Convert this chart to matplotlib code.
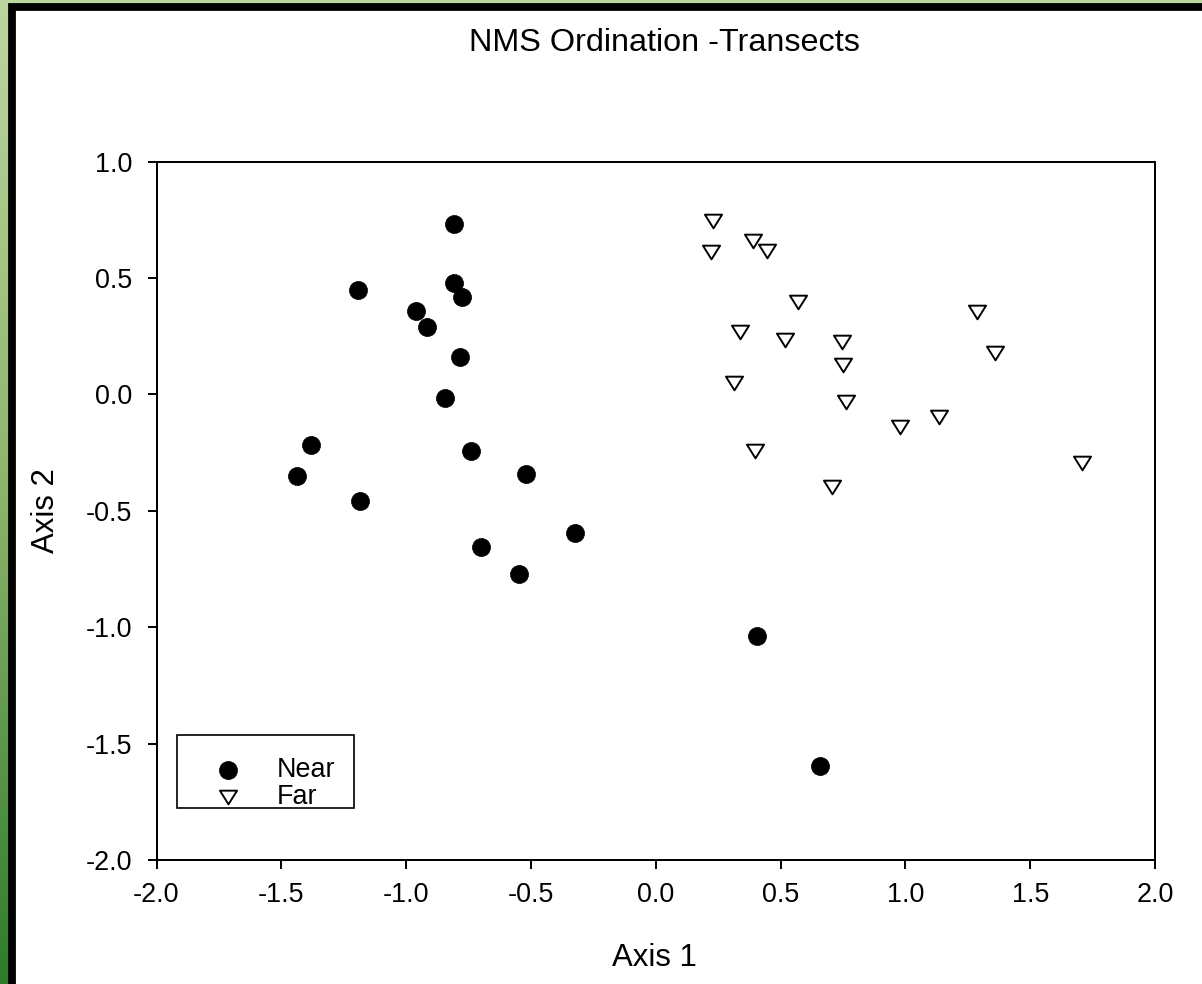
import numpy as np
import matplotlib
matplotlib.use("Agg")
import matplotlib.pyplot as plt
from matplotlib.colors import LinearSegmentedColormap
from matplotlib.patches import Rectangle
from matplotlib.path import Path

plt.rcParams['font.family'] = ['Liberation Sans', 'DejaVu Sans']

# NMS scores, axis 1 / axis 2
near_x = [-0.808, -1.191, -0.808, -0.777, -0.960, -0.915, -0.784, -0.843, -1.380,
          -1.436, -1.186, -0.740, -0.518, -0.323, -0.699, -0.549, 0.407, 0.658]
near_y = [0.731, 0.447, 0.479, 0.417, 0.357, 0.288, 0.162, -0.014, -0.219,
          -0.349, -0.459, -0.244, -0.343, -0.597, -0.654, -0.771, -1.039, -1.598]

far_x = [0.231, 0.223, 0.389, 0.447, 0.569, 0.339, 0.518, 0.745, 0.749,
         0.313, 0.761, 0.980, 1.134, 1.287, 1.361, 0.398, 0.705, 1.709]
far_y = [0.743, 0.612, 0.657, 0.614, 0.398, 0.267, 0.234, 0.225, 0.127,
         0.048, -0.031, -0.141, -0.098, 0.354, 0.177, -0.244, -0.399, -0.295]

ticks = [-2.0, -1.5, -1.0, -0.5, 0.0, 0.5, 1.0, 1.5, 2.0]
y_ticks = [-2.0, -1.5, -1.0, -0.5, 0.0, 0.5, 1.0]

W, H = 1202, 984
fig = plt.figure(figsize=(W / 100, H / 100), dpi=100)

# slide background: green gradient with a black-edged white panel
bg = fig.add_axes([0, 0, 1, 1])
bg.set_xlim(0, W)
bg.set_ylim(H, 0)
bg.axis("off")
green = LinearSegmentedColormap.from_list(
    "slide", [(0.0, "#bdd6a0"), (0.5, "#8db46b"), (1.0, "#2e7b2c")])
grad = np.linspace(0, 1, 256).reshape(-1, 1)
bg.imshow(grad, cmap=green, extent=[0, W, H, 0], aspect="auto", zorder=0)
bg.add_patch(Rectangle((11.5, 6.5), 1400, 1200, facecolor="white",
                       edgecolor="black", linewidth=5.6, zorder=1))

fig.text(664 / W, 1 - 43 / H, "NMS Ordination -Transects", fontsize=23.3,
         ha="center", va="center")

ax = fig.add_axes([156.5 / W, (H - 860) / H, 998.5 / W, 698.5 / H])
ax.set_facecolor("none")

# flattened down-pointing triangle, closed so the outline joins
tri = Path([(-1, 0.8), (1, 0.8), (0, -0.8), (-1, 0.8)], closed=True)

ax.plot(near_x, near_y, linestyle="none", marker="o", ms=13, mfc="black",
        mec="black", mew=0.5, clip_on=False)
ax.plot(far_x, far_y, linestyle="none", marker=tri, ms=12.3, mfc="white",
        mec="black", mew=1.4, clip_on=False)

ax.set_xlim(-2, 2)
ax.set_ylim(-2, 1)
ax.set_xticks(ticks)
ax.set_yticks(y_ticks)
ax.set_xticklabels([f"{t:.1f}" for t in ticks])
ax.set_yticklabels([f"{t:.1f}" for t in y_ticks])
ax.tick_params(direction="out", length=6.8, width=1.4, labelsize=19.4)
ax.tick_params(axis="x", pad=9.4)
ax.tick_params(axis="y", pad=10.5)
for s in ax.spines.values():
    s.set_linewidth(1.44)

ax.set_xlabel("Axis 1", fontsize=22.4)
ax.set_ylabel("Axis 2", fontsize=22.4)
ax.xaxis.set_label_coords(0.4985, -0.119)
ax.yaxis.set_label_coords(-0.0956, 0.5)

# legend box drawn in axes coordinates
ax.add_patch(Rectangle((0.0205, 0.0744), 0.198 - 0.0205, 0.179 - 0.0744,
                       transform=ax.transAxes, facecolor="white",
                       edgecolor="black", linewidth=1.2, zorder=3))
ax.plot([0.0716], [0.1288], transform=ax.transAxes, marker="o", ms=13,
        mfc="black", mec="black", mew=0.5, zorder=4)
ax.plot([0.0716], [0.0902], transform=ax.transAxes, marker=tri, ms=12.3,
        mfc="white", mec="black", mew=1.4, zorder=4)
ax.text(0.1207, 0.1288, "Near", transform=ax.transAxes, fontsize=19.4,
        va="center", ha="left", zorder=4)
ax.text(0.1207, 0.0902, "Far", transform=ax.transAxes, fontsize=19.4,
        va="center", ha="left", zorder=4)

fig.savefig("out.png", dpi=100)
